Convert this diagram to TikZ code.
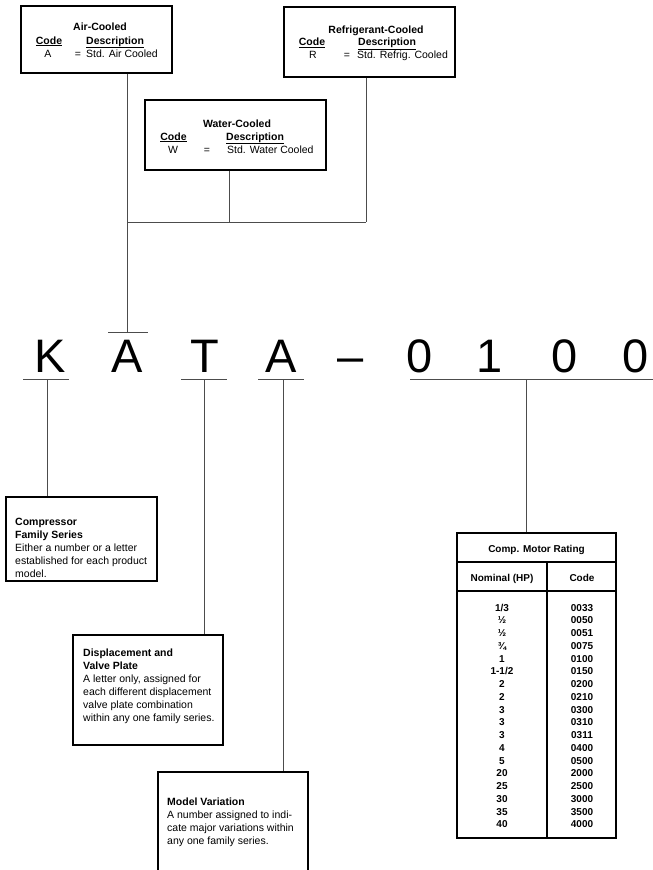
\documentclass[tikz,border=0pt]{standalone}
\usepackage{fontspec}
\setmainfont{Liberation Sans}
\usetikzlibrary{positioning}

\begin{document}
\begin{tikzpicture}[x=1pt,y=-1pt,
    every node/.style={inner sep=0pt, font=\fontsize{10.5}{13}\selectfont},
    box/.style 2 args={draw=black, line width=1.2pt, minimum width=#1, minimum height=#2},
    txt/.style={anchor=base},
    lefttxt/.style={anchor=base west},
    para/.style={anchor=north west, align=left},
    big/.style={anchor=base, font=\fontsize{47}{47}\selectfont},
    tab/.style={anchor=base, font=\fontsize{10}{12}\selectfont\bfseries},
    wire/.style={draw=black!70, line width=1pt}]
    \clip (0,0) rectangle (653,870);

    % option boxes at the top
    \node (airbox)[box={151}{67}]   at (96.5,39.5) {};
    \node (refbox)[box={171}{70}]   at (369.5,42)  {};
    \node (waterbox)[box={181}{70}] at (235.5,135) {};

    \node (airT)[txt]       at (100,30)  {\bfseries Air-Cooled};
    \node (airC)[txt]       at (49,44)   {\bfseries\underline{Code}};
    \node (airD)[lefttxt]   at (86,44)   {\bfseries\underline{Description}};
    \node (airA)[txt]       at (48,57)   {A};
    \node (airE)[txt]       at (78,57)   {=};
    \node (airS)[lefttxt]   at (86,57)   {Std. Air Cooled};

    \node (refT)[txt]       at (376,33)  {\bfseries Refrigerant-Cooled};
    \node (refC)[txt]       at (312,45.5) {\bfseries\underline{Code}};
    \node (refD)[lefttxt]   at (358,45.5) {\bfseries\underline{Description}};
    \node (refR)[txt]       at (313,58)  {R};
    \node (refE)[txt]       at (347,58)  {=};
    \node (refS)[lefttxt]   at (357,58)  {Std. Refrig. Cooled};

    \node (watT)[txt]       at (237,127) {\bfseries Water-Cooled};
    \node (watC)[txt]       at (173.5,140) {\bfseries\underline{Code}};
    \node (watD)[lefttxt]   at (226,140) {\bfseries\underline{Description}};
    \node (watW)[txt]       at (173,153) {W};
    \node (watE)[txt]       at (207,153) {=};
    \node (watS)[lefttxt]   at (227,153) {Std. Water Cooled};

    % model number
    \node (l1)[big] at (50,372)    {K};
    \node (l2)[big] at (127.5,372) {A};
    \node (l3)[big] at (204.5,372) {T};
    \node (l4)[big] at (281,372)   {A};
    \node (l5)[big] at (351,372)   {--};
    \node (l6)[big] at (420,372)   {0};
    \node (l7)[big] at (489.5,372) {1};
    \node (l8)[big] at (565,372)   {0};
    \node (l9)[big] at (636,372)   {0};

    \coordinate (tA) at (127,332);
    \coordinate (jL) at (127,222);
    \coordinate (jM) at (229,222);
    \coordinate (jR) at (366,222);
    \coordinate (kbar) at (47,379);
    \coordinate (tbar) at (204,379);
    \coordinate (abar) at (283,379);
    \coordinate (nbar) at (526,379);

    % description boxes below
    \node (compbox)[box={151}{84}]   at (81.5,539) {};
    \node (dispbox)[box={150}{110}]  at (148,690)  {};
    \node (modelbox)[box={150}{128}] at (233,836)  {};
    \node (motorbox)[box={159}{305}] at (536.5,685.5) {};

    \node (compT)[para] at (15,517.5)
      {\bfseries Compressor\\\bfseries Family Series\\Either a number or a letter\\established for each product\\model.};
    \node (dispT)[para] at (83,649)
      {\bfseries Displacement and\\\bfseries Valve Plate\\A letter only, assigned for\\each different displacement\\valve plate combination\\within any one family series.};
    \node (modelT)[para] at (167,797.5)
      {\bfseries Model Variation\\A number assigned to indi-\\cate major variations within\\any one family series.};

    % motor rating table
    \draw[line width=1.2pt] (motorbox.west |- 0,562) -- (motorbox.east |- 0,562);
    \draw[line width=1.2pt] (motorbox.west |- 0,591) -- (motorbox.east |- 0,591);
    \draw[line width=1.2pt] (547,562) -- (motorbox.south -| 547,0);
    \node (motT)[tab] at (536.5,552) {Comp. Motor Rating};
    \node (motH)[tab] at (502,581)   {Nominal (HP)};
    \node (motK)[tab] at (582,581)   {Code};
    \foreach \hp/\cd [count=\i from 0] in
      {{1/3}/0033, ½/0050, ½/0051, ¾/0075, 1/0100, {1-1/2}/0150,
       2/0200, 2/0210, 3/0300, 3/0310, 3/0311, 4/0400, 5/0500,
       20/2000, 25/2500, 30/3000, 35/3500, 40/4000}
    {
      \node (hp\i)[tab] at (502,611+12.76*\i) {\hp};
      \node (cd\i)[tab] at (582,611+12.76*\i) {\cd};
    }

    % bars and connectors
    \draw[wire] ([xshift=-19pt]tA) -- ([xshift=21pt]tA);
    \draw[wire] ([xshift=-24pt]kbar) -- ([xshift=22pt]kbar);
    \draw[wire] ([xshift=-23pt]tbar) -- ([xshift=23pt]tbar);
    \draw[wire] ([xshift=-25pt]abar) -- ([xshift=21pt]abar);
    \draw[wire] ([xshift=-116pt]nbar) -- ([xshift=127pt]nbar);

    \foreach \from/\to in
      {airbox.south -| tA/tA, waterbox.south -| jM/jM, refbox.south -| jR/jR,
       jL/jR,
       kbar/kbar |- compbox.north, tbar/tbar |- dispbox.north,
       abar/abar |- modelbox.north, nbar/nbar |- motorbox.north}
    \draw[wire] (\from) -- (\to);
\end{tikzpicture}
\end{document}
